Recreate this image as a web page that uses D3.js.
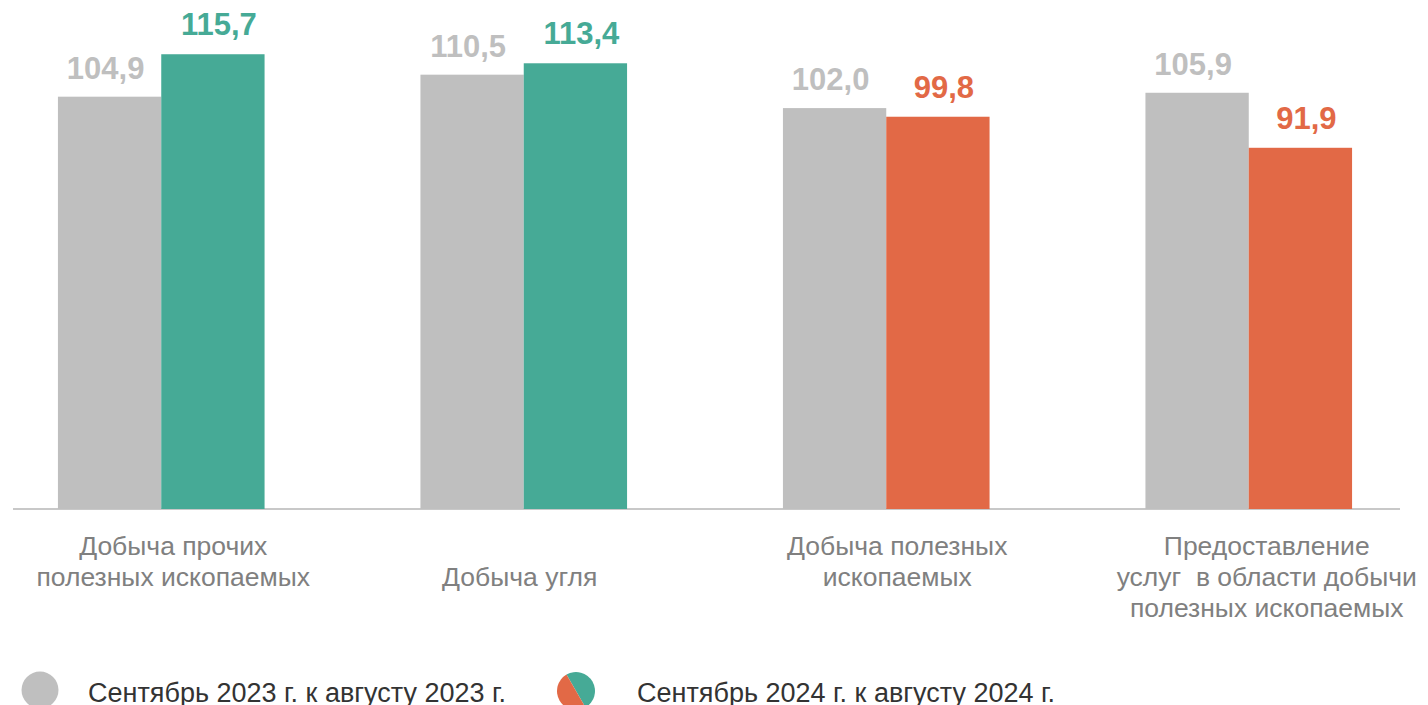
<!DOCTYPE html>
<html>
<head>
<meta charset="utf-8">
<script src="https://cdn.jsdelivr.net/npm/d3@7"></script>
<style>
  body { margin: 0; background: #fff; }
  svg { display: block; font-family: "Liberation Sans", Arial, sans-serif; }
</style>
</head>
<body>
<div id="chart"></div>
<script>
var categories = ["c1", "c2", "c3", "c4"];
var categoryLines = [
    ["Добыча прочих", "полезных ископаемых"],
    ["", "Добыча угля"],
    ["Добыча полезных", "ископаемых"],
    ["Предоставление", "услуг  в области добычи", "полезных ископаемых"]
];
var values2023 = [104.9, 110.5, 102.0, 105.9];
var values2024 = [115.7, 113.4, 99.8, 91.9];
var seriesNames = ["Сентябрь 2023 г. к августу 2023 г.", "Сентябрь 2024 г. к августу 2024 г."];

var grey = "#bfbfbf", teal = "#46aa96", orange = "#e26946";
var labelShift = [12, -4, 11, 18];

var width = 1428, height = 705;
var baseY = 509;

var svg = d3.select("#chart").append("svg")
    .attr("width", width)
    .attr("height", height);

var x = d3.scaleBand()
    .domain(categories)
    .range([-20, 1430])
    .paddingInner(0.43)
    .paddingOuter(0.215);

var x1 = d3.scaleBand()
    .domain(["a", "b"])
    .range([0, x.bandwidth()]);

var y = d3.scaleLinear()
    .domain([0, 129.5])
    .range([baseY, 0]);

// baseline
svg.append("line")
    .attr("x1", 13).attr("x2", 1400)
    .attr("y1", baseY).attr("y2", baseY)
    .style("stroke", "#c8c8c8")
    .style("stroke-width", 2);

var rows = categories.map(function(c, i){
    return {cat: c, a: values2023[i], b: values2024[i]};
});

var groups = svg.selectAll("g.grp")
    .data(rows)
    .enter().append("g")
    .attr("class", "grp")
    .attr("transform", function(d){ return "translate(" + x(d.cat) + ",0)"; });

function colorB(v){ return v >= 100 ? teal : orange; }

groups.append("rect")
    .attr("x", x1("a"))
    .attr("width", x1.bandwidth())
    .attr("y", function(d){ return y(d.a); })
    .attr("height", function(d){ return baseY - y(d.a); })
    .style("fill", grey);

groups.append("rect")
    .attr("x", x1("b"))
    .attr("width", x1.bandwidth())
    .attr("y", function(d){ return y(d.b); })
    .attr("height", function(d){ return baseY - y(d.b); })
    .style("fill", function(d){ return colorB(d.b); });

var fmt = function(v){ return d3.format(".1f")(v).replace(".", ","); };

groups.append("text")
    .attr("x", x1("a") + x1.bandwidth()/2 - 4)
    .attr("y", function(d){ return y(d.a) - 18; })
    .attr("text-anchor", "middle")
    .style("font-size", "31px")
    .style("font-weight", "bold")
    .style("fill", grey)
    .text(function(d){ return fmt(d.a); });

groups.append("text")
    .attr("x", x1("b") + x1.bandwidth()/2 + 6)
    .attr("y", function(d){ return y(d.b) - 19; })
    .attr("text-anchor", "middle")
    .style("font-size", "31px")
    .style("font-weight", "bold")
    .style("fill", function(d){ return colorB(d.b); })
    .text(function(d){ return fmt(d.b); });

// category labels
groups.each(function(d, i){
    var g = d3.select(this);
    categoryLines[i].forEach(function(line, j){
        g.append("text")
            .attr("x", x.bandwidth()/2 + labelShift[i])
            .attr("y", 555 + j*31)
            .attr("text-anchor", "middle")
            .style("font-size", "26.5px")
            .style("white-space", "pre")
            .style("fill", "#808080")
            .text(line);
    });
});

// legend
var leg = svg.append("g");
leg.append("circle")
    .attr("cx", 40).attr("cy", 690).attr("r", 18.5)
    .style("fill", grey);
leg.append("text")
    .attr("x", 88).attr("y", 702)
    .style("font-size", "27px")
    .style("fill", "#333")
    .text(seriesNames[0]);

var cx2 = 576, cy2 = 691, r2 = 19;
var ang = Math.PI * 2 / 3;
var pTop = [cx2 + r2*Math.cos(-ang), cy2 + r2*Math.sin(-ang)];
var pBot = [cx2 - r2*Math.cos(-ang), cy2 - r2*Math.sin(-ang)];
leg.append("path")
    .attr("d", "M" + pTop + " A" + r2 + "," + r2 + " 0 0 1 " + pBot + " Z")
    .style("fill", teal);
leg.append("path")
    .attr("d", "M" + pBot + " A" + r2 + "," + r2 + " 0 0 1 " + pTop + " Z")
    .style("fill", orange);
leg.append("text")
    .attr("x", 637).attr("y", 702)
    .style("font-size", "27px")
    .style("fill", "#333")
    .text(seriesNames[1]);
</script>
</body>
</html>
